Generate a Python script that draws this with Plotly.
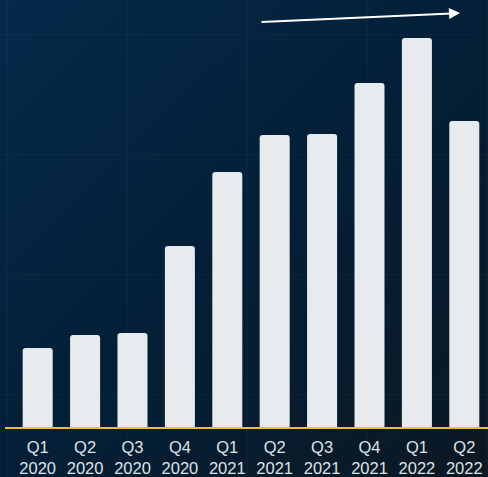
import base64
import plotly.graph_objects as go

categories = ["Q1<br>2020", "Q2<br>2020", "Q3<br>2020", "Q4<br>2020", "Q1<br>2021",
              "Q2<br>2021", "Q3<br>2021", "Q4<br>2021", "Q1<br>2022", "Q2<br>2022"]
values = [7.9, 9.2, 9.4, 18.1, 25.5, 29.2, 29.3, 34.4, 38.9, 30.6]

W, H = 488, 477
PLOT_H = 427

svg = f'''<svg xmlns="http://www.w3.org/2000/svg" width="{W}" height="{H}" viewBox="0 0 {W} {H}" preserveAspectRatio="none">
<defs><linearGradient id="g" x1="0" y1="0" x2="1" y2="1">
<stop offset="0" stop-color="#052a4a"/>
<stop offset="0.5" stop-color="#031f37"/>
<stop offset="1" stop-color="#0b1822"/>
</linearGradient></defs>
<rect width="{W}" height="{H}" fill="url(#g)"/>
</svg>'''
src = "data:image/svg+xml;base64," + base64.b64encode(svg.encode()).decode()

fig = go.Figure()
fig.add_trace(go.Bar(
    x=list(range(len(categories))), y=values,
    marker=dict(color="#e8ebee", cornerradius=3, line=dict(width=0)),
    hoverinfo="skip",
))

def py(p):
    return (PLOT_H - p) / PLOT_H

shapes = []
grid_col = "rgba(255,255,255,0.045)"
for p in [35, 155, 275, 395]:
    shapes.append(dict(type="line", xref="paper", yref="paper", x0=0, x1=1, y0=py(p), y1=py(p),
                       line=dict(color=grid_col, width=1), layer="below"))
for xp in [7, 127, 247, 367, 487]:
    shapes.append(dict(type="line", xref="paper", yref="paper", x0=xp / W, x1=xp / W, y0=py(0), y1=py(H),
                       line=dict(color=grid_col, width=1), layer="below"))
shapes.append(dict(type="line", xref="paper", yref="paper", x0=5 / W, x1=1, y0=py(428), y1=py(428),
                   line=dict(color="#f2bd2c", width=2), layer="above"))

fig.update_layout(
    width=W, height=H,
    margin=dict(l=0, r=0, t=0, b=H - PLOT_H, pad=0, autoexpand=False),
    paper_bgcolor="#04213a", plot_bgcolor="rgba(0,0,0,0)",
    showlegend=False,
    bargap=0.367,
    images=[dict(source=src, xref="paper", yref="paper", x=0, y=py(0), sizex=1, sizey=H / PLOT_H,
                 xanchor="left", yanchor="top", sizing="stretch", layer="below")],
    shapes=shapes,
    annotations=[dict(xref="paper", yref="paper", x=460 / W, y=py(13), ax=-200, ay=9,
                      text="", showarrow=True, arrowhead=2, arrowsize=1.1, arrowwidth=2,
                      arrowcolor="#ffffff")],
    xaxis=dict(range=[-0.795, 9.5], tickmode="array", tickvals=list(range(len(categories))),
               ticktext=categories, showgrid=False, zeroline=False, showline=False,
               automargin=False,
               tickfont=dict(family="Liberation Sans, Arial", size=16.5, color="#dde2e6"),
               ticks="", ticklabelstandoff=8),
    yaxis=dict(range=[0, 42.7], visible=False, showgrid=False, zeroline=False, automargin=False),
)

fig.write_html("out.html")
